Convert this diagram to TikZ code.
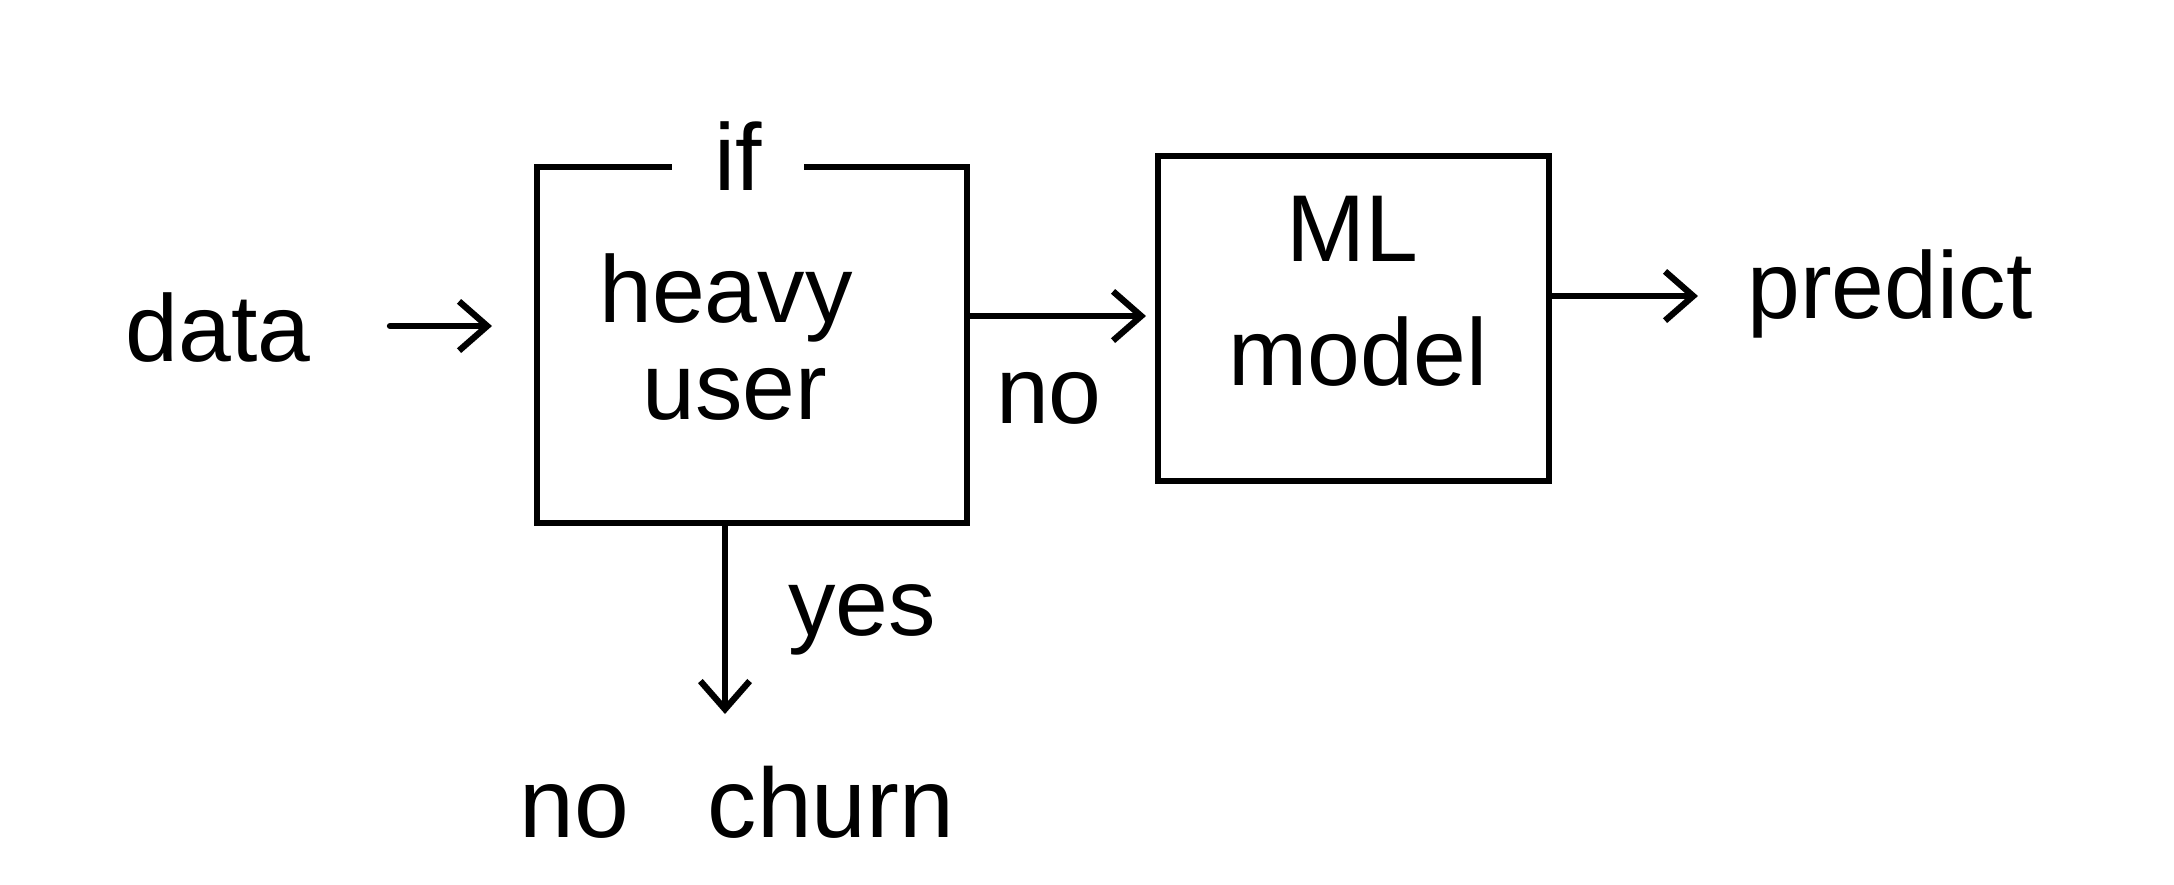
\documentclass[tikz,border=0pt]{standalone}
\usepackage{fontspec}
\setmainfont{Liberation Sans}
\usetikzlibrary{arrows.meta}
\begin{document}
\begin{tikzpicture}[x=0.01cm,y=-0.01cm,
  lbl/.style={font=\fontsize{27}{30}\selectfont, inner sep=2pt},
  boxline/.style={line width=1.8pt},
  arr/.style={line width=1.8pt, line cap=round, -{Straight Barb[length=8pt,width=14pt,line width=1.8pt]}}]
\useasboundingbox (0,0) rectangle (2174,884);
% box 1
\node[boxline, draw, minimum width=430*0.01cm, minimum height=356*0.01cm, anchor=north west] (b1) at (534,164) {};
\node[lbl, fill=white, inner xsep=12pt, inner ysep=0pt] (if) at (738,156) {if};
\node[lbl] (heavy) at (726,298) {heavy};
\node[lbl] (user) at (735,394) {user};
% box 2
\node[boxline, draw, minimum width=391*0.01cm, minimum height=325*0.01cm, anchor=north west] (b2) at (1155,153) {};
\node[lbl] (ml) at (1352,229) {ML};
\node[lbl] (model) at (1358,352) {model};
% texts
\node[lbl] (data) at (218,328) {data};
\node[lbl] (pred) at (1890,294) {predict};
\node[lbl, font=\fontsize{28}{30}\selectfont] (nochurn) at (737,802) {no\hspace{0.8em}churn};
\node[lbl] (no) at (1049,398) {no};
\node[lbl] (yes) at (862,620) {yes};
% arrow end points
\coordinate (d0) at (390,326);
\coordinate (d1) at (492,326);
\coordinate (n1) at (1146,316);
\coordinate (p1) at (1698,296);
\coordinate (c1) at (725,714);
% arrows
\draw[arr] (d0) -- (d1);
\draw[arr] (b1.east |- n1) -- (n1);
\draw[arr] (b2.east |- p1) -- (p1);
\draw[arr] (b1.south -| c1) -- (c1);
\end{tikzpicture}
\end{document}
